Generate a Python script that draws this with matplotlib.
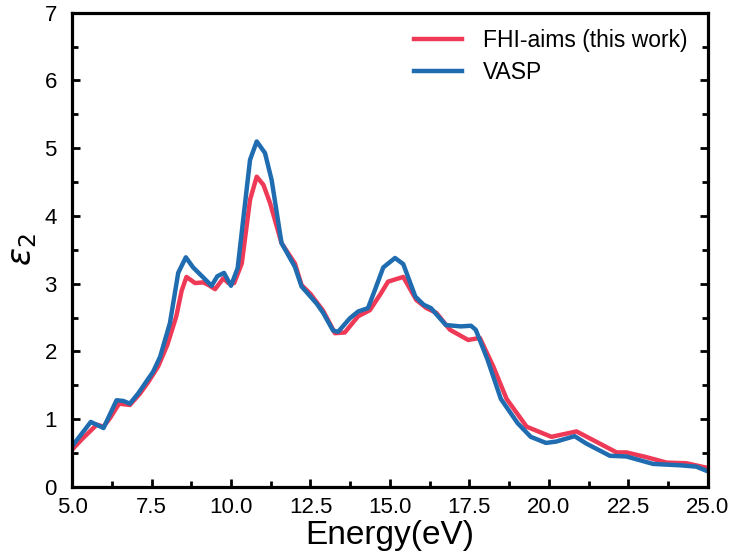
import matplotlib
matplotlib.use("Agg")
import matplotlib.pyplot as plt
from matplotlib.ticker import MultipleLocator

plt.rcParams['font.family'] = ['Liberation Sans', 'DejaVu Sans']
plt.rcParams['mathtext.fontset'] = 'dejavusans'

# FHI-aims (this work)
aims_E = [5.0, 5.3, 5.78, 5.99, 6.2, 6.48, 6.82, 7.14, 7.4, 7.71, 8.0, 8.28, 8.45, 8.6,
          8.87, 9.13, 9.3, 9.5, 9.76, 9.92, 10.1, 10.34, 10.6, 10.81, 11.02, 11.23, 11.59,
          12.01, 12.22, 12.5, 12.9, 13.27, 13.58, 14.0, 14.37, 14.72, 14.94, 15.21, 15.42,
          15.83, 16.15, 16.46, 16.89, 17.46, 17.83, 18.25, 18.67, 19.3, 20.08, 20.87, 21.4,
          22.13, 22.44, 23.07, 23.7, 24.33, 25.0]
aims_eps = [0.55, 0.70, 0.92, 0.89, 1.02, 1.23, 1.21, 1.38, 1.55, 1.78, 2.10, 2.52, 2.90, 3.10,
            3.01, 3.02, 2.98, 2.92, 3.08, 3.01, 3.01, 3.30, 4.24, 4.58, 4.46, 4.19, 3.60,
            3.30, 2.98, 2.85, 2.60, 2.27, 2.28, 2.52, 2.61, 2.86, 3.03, 3.07, 3.10,
            2.76, 2.64, 2.57, 2.32, 2.17, 2.20, 1.78, 1.30, 0.89, 0.74, 0.82, 0.69,
            0.51, 0.51, 0.44, 0.36, 0.35, 0.28]

# VASP
vasp_E = [5.0, 5.59, 5.99, 6.4, 6.61, 6.82, 7.08, 7.55, 7.77, 8.08, 8.34, 8.58, 8.81, 9.39,
          9.57, 9.78, 10.0, 10.21, 10.6, 10.81, 11.07, 11.28, 11.59, 12.01, 12.22, 12.69,
          12.9, 13.21, 13.37, 13.74, 14.0, 14.31, 14.53, 14.79, 15.16, 15.42, 15.8, 16.06,
          16.29, 16.76, 17.23, 17.55, 17.7, 18.07, 18.49, 19.02, 19.43, 19.91, 20.23, 20.81,
          21.18, 21.92, 22.44, 23.28, 24.12, 24.64, 25.0]
vasp_eps = [0.60, 0.96, 0.87, 1.28, 1.27, 1.23, 1.38, 1.70, 1.92, 2.42, 3.16, 3.39, 3.24, 2.97,
            3.11, 3.16, 2.97, 3.23, 4.83, 5.10, 4.93, 4.53, 3.60, 3.25, 2.96, 2.71,
            2.57, 2.31, 2.29, 2.49, 2.59, 2.64, 2.91, 3.24, 3.38, 3.29, 2.81, 2.69,
            2.64, 2.39, 2.37, 2.38, 2.32, 1.88, 1.30, 0.94, 0.74, 0.65, 0.67, 0.75,
            0.64, 0.46, 0.45, 0.34, 0.32, 0.30, 0.23]

fig = plt.figure(figsize=(7.35, 5.54), dpi=100)
ax = fig.add_axes([0.098, 0.121, 0.865, 0.856])

ax.plot(aims_E, aims_eps, color='#ee3a56', lw=3.2, solid_joinstyle='round',
        label='FHI-aims (this work)')
ax.plot(vasp_E, vasp_eps, color='#1f6db0', lw=3.2, solid_joinstyle='round', label='VASP')

ax.set_xlim(5, 25)
ax.set_ylim(0, 7)
ax.xaxis.set_major_locator(MultipleLocator(2.5))
ax.xaxis.set_minor_locator(MultipleLocator(1.25))
ax.yaxis.set_major_locator(MultipleLocator(1))
ax.yaxis.set_minor_locator(MultipleLocator(0.5))
ax.xaxis.set_major_formatter(plt.FormatStrFormatter('%.1f'))

ax.tick_params(which='both', direction='in', top=False, right=True, width=2, labelsize=16)
ax.tick_params(which='major', length=6)
ax.tick_params(which='minor', length=4)
ax.tick_params(axis='x', pad=7)
ax.tick_params(axis='y', pad=11)
for s in ax.spines.values():
    s.set_linewidth(2.3)

ax.set_xlabel('Energy(eV)', fontsize=24, labelpad=2)
ax.set_ylabel(r'$\varepsilon_2$', fontsize=24, labelpad=4)

ax.legend(loc='upper right', frameon=False, fontsize=16.5, handlelength=2.1,
          handletextpad=0.9, labelspacing=0.4, bbox_to_anchor=(1.0, 1.01))

fig.savefig('out.png', dpi=100)
